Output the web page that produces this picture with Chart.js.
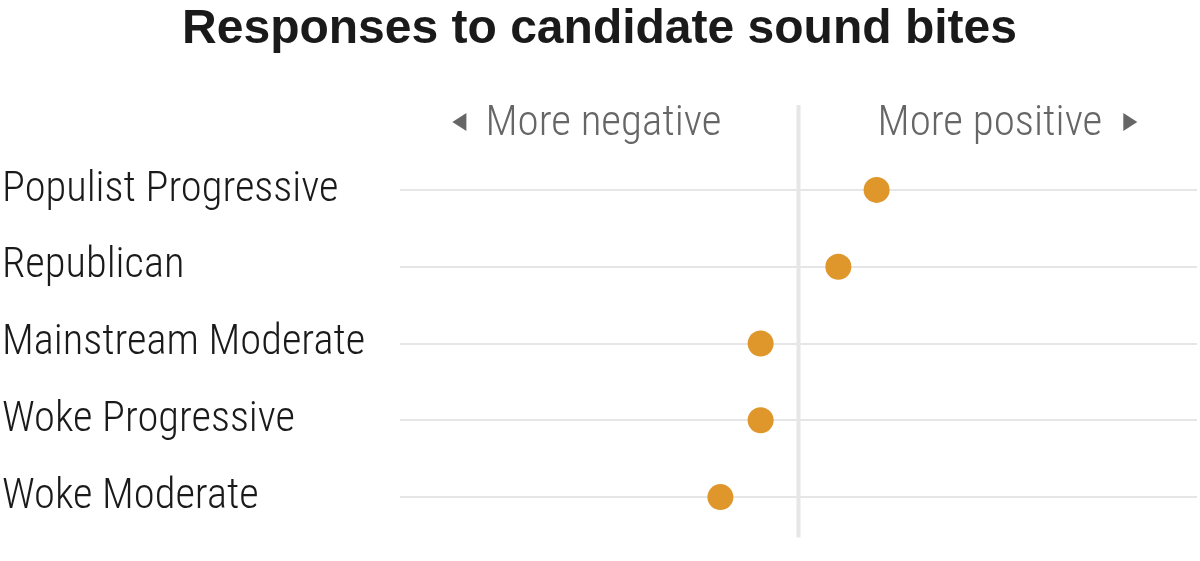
<!DOCTYPE html>
<html>
<head>
<meta charset="utf-8">
<script src="https://cdn.jsdelivr.net/npm/chart.js@4/dist/chart.umd.min.js"></script>
<style>
  html, body { margin: 0; padding: 0; background: #fff; }
  #wrap { width: 1200px; height: 561px; }
</style>
</head>
<body>
<div id="wrap"><canvas id="soundBites"></canvas></div>
<script>
// Data
const groups = ['Populist Progressive', 'Republican', 'Mainstream Moderate', 'Woke Progressive', 'Woke Moderate'];
const scores = [0.196, 0.10, -0.095, -0.095, -0.196];
const sideLabels = ['More negative', 'More positive'];

const FONT = '"Liberation Sans Narrow", "Roboto Condensed", "Liberation Sans", sans-serif';

// centre line + the two direction labels on top
const headerPlugin = {
  id: 'header',
  beforeDatasetsDraw(chart) {
    const { ctx, chartArea, scales } = chart;
    const x0 = scales.x.getPixelForValue(0);
    ctx.save();
    ctx.strokeStyle = '#e6e6e6';
    ctx.lineWidth = 4;
    ctx.beginPath();
    ctx.moveTo(x0, 105);
    ctx.lineTo(x0, chartArea.bottom + 2);
    ctx.stroke();

    ctx.fillStyle = '#666';
    ctx.font = '300 43px ' + FONT;
    ctx.textBaseline = 'alphabetic';
    const y = 135;
    // left label, right-aligned
    ctx.textAlign = 'right';
    ctx.fillText(sideLabels[0], x0 - 77, y);
    const wl = ctx.measureText(sideLabels[0]).width;
    const lx = x0 - 77 - wl - 19;
    ctx.beginPath();
    ctx.moveTo(lx, 113);
    ctx.lineTo(lx - 14, 122);
    ctx.lineTo(lx, 131);
    ctx.closePath();
    ctx.fill();
    // right label
    ctx.textAlign = 'left';
    ctx.fillText(sideLabels[1], x0 + 79, y);
    const wr = ctx.measureText(sideLabels[1]).width;
    const rx = x0 + 79 + wr + 21;
    ctx.beginPath();
    ctx.moveTo(rx, 113);
    ctx.lineTo(rx + 14, 122);
    ctx.lineTo(rx, 131);
    ctx.closePath();
    ctx.fill();
    ctx.restore();
  }
};

new Chart(document.getElementById('soundBites'), {
  type: 'scatter',
  data: {
    datasets: [{
      data: scores.map((v, i) => ({ x: v, y: groups[i] })),
      backgroundColor: '#df962a',
      borderWidth: 0,
      pointRadius: 13,
      pointHoverRadius: 13,
      clip: false
    }]
  },
  options: {
    responsive: true,
    maintainAspectRatio: false,
    animation: false,
    layout: { autoPadding: false, padding: { left: 2, right: 3, top: 0, bottom: 24.5 } },
    plugins: {
      legend: { display: false },
      tooltip: { enabled: false },
      title: {
        display: true,
        text: 'Responses to candidate sound bites',
        color: '#1a1a1a',
        font: { family: '"Liberation Sans", Arial, sans-serif', size: 48, weight: 'bold', lineHeight: 1.2 },
        padding: { top: 1, bottom: 92.9 }
      }
    },
    scales: {
      x: {
        type: 'linear',
        min: -1,
        max: 1,
        display: false
      },
      y: {
        type: 'category',
        labels: groups,
        offset: true,
        border: { display: false },
        grid: { color: '#e6e6e6', lineWidth: 2, offset: false, drawTicks: false },
        ticks: {
          color: '#1a1a1a',
          padding: 0,
          crossAlign: 'far',
          font: { family: FONT, size: 42.5, weight: 300 }
        },
        afterFit(s) { s.width = 398; }
      }
    }
  },
  plugins: [headerPlugin]
});
</script>
</body>
</html>
